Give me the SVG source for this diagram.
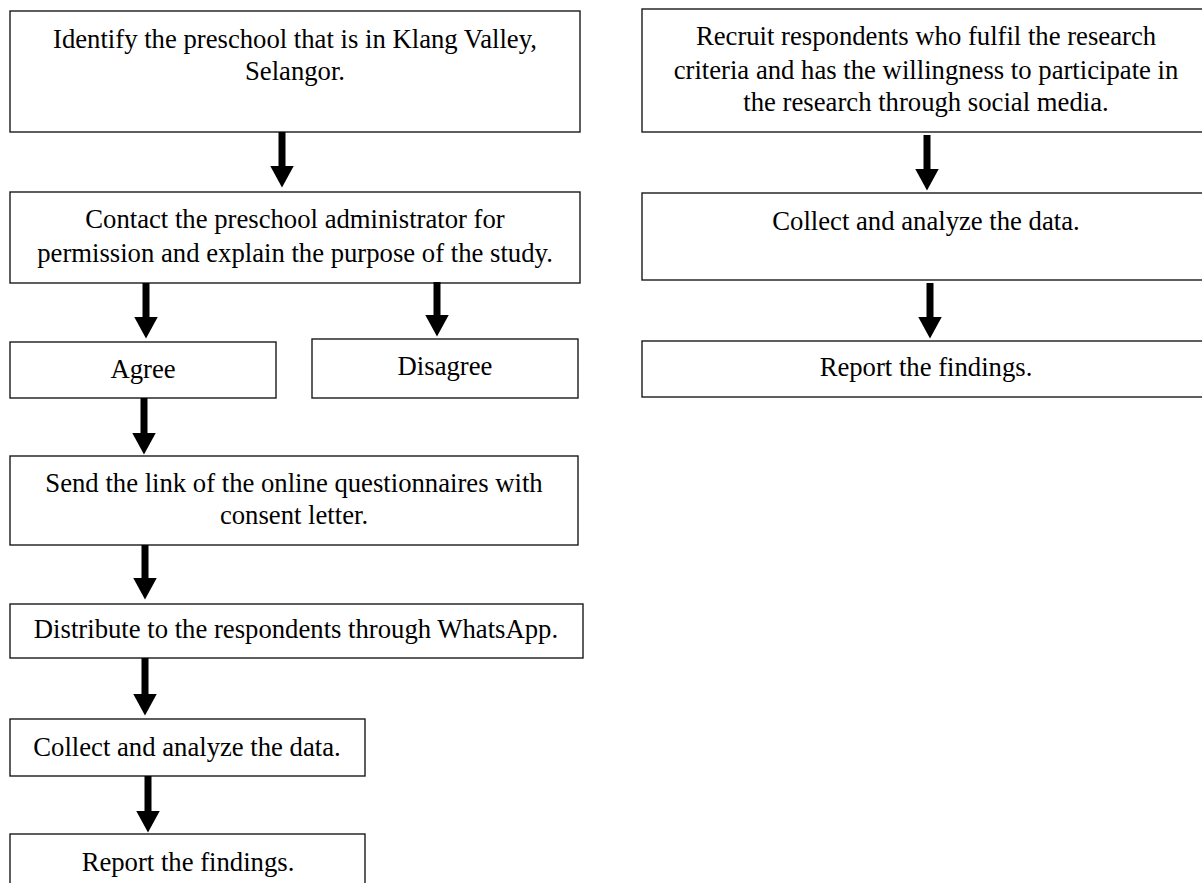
<svg xmlns="http://www.w3.org/2000/svg" width="1202" height="883" viewBox="0 0 1202 883">
<style>
.box{fill:#fff;stroke:#1a1a1a;stroke-width:1.4}
.t{font-family:"Liberation Serif","Times New Roman",serif;font-size:26.7px;fill:#000;text-anchor:middle}
</style>
<defs>
<marker id="ah" viewBox="0 0 22 24" markerWidth="22" markerHeight="24" refX="0.5" refY="12" orient="auto" markerUnits="userSpaceOnUse"><path d="M0,0 L22,12 L0,24 Z" fill="#000"/></marker>
</defs>
<rect width="1202" height="883" fill="#fff"/>
<g id="n1"><rect class="box" x="10" y="11" width="570" height="121"/><text class="t" x="295" y="48">Identify the preschool that is in Klang Valley,</text><text class="t" x="295" y="80">Selangor.</text></g>
<g id="n2"><rect class="box" x="10" y="192" width="570" height="91"/><text class="t" x="295" y="228">Contact the preschool administrator for</text><text class="t" x="295" y="262">permission and explain the purpose of the study.</text></g>
<g id="n3"><rect class="box" x="10" y="342" width="266" height="56"/><text class="t" x="143" y="378">Agree</text></g>
<g id="n4"><rect class="box" x="312" y="339" width="266" height="59"/><text class="t" x="445" y="375">Disagree</text></g>
<g id="n5"><rect class="box" x="10" y="456" width="568" height="89"/><text class="t" x="294" y="492">Send the link of the online questionnaires with</text><text class="t" x="294" y="524">consent letter.</text></g>
<g id="n6"><rect class="box" x="10" y="604" width="573" height="54"/><text class="t" x="296" y="638">Distribute to the respondents through WhatsApp.</text></g>
<g id="n7"><rect class="box" x="10" y="719" width="355" height="57"/><text class="t" x="187" y="756">Collect and analyze the data.</text></g>
<g id="n8"><rect class="box" x="10" y="834" width="355" height="60"/><text class="t" x="188" y="871">Report the findings.</text></g>
<g id="n9"><rect class="box" x="642" y="9" width="570" height="123"/><text class="t" x="926" y="45">Recruit respondents who fulfil the research</text><text class="t" x="926" y="79">criteria and has the willingness to participate in</text><text class="t" x="926" y="111">the research through social media.</text></g>
<g id="n10"><rect class="box" x="642" y="193" width="570" height="87"/><text class="t" x="926" y="230">Collect and analyze the data.</text></g>
<g id="n11"><rect class="box" x="642" y="341" width="570" height="56"/><text class="t" x="926" y="376">Report the findings.</text></g>
<g id="connectors" stroke="#000" stroke-width="7" fill="none">
<line x1="282" y1="132" x2="282" y2="166" marker-end="url(#ah)"/>
<line x1="146" y1="283" x2="146" y2="317" marker-end="url(#ah)"/>
<line x1="437" y1="282" x2="437" y2="315" marker-end="url(#ah)"/>
<line x1="144" y1="398" x2="144" y2="433" marker-end="url(#ah)"/>
<line x1="145" y1="545" x2="145" y2="578" marker-end="url(#ah)"/>
<line x1="145" y1="658" x2="145" y2="694" marker-end="url(#ah)"/>
<line x1="148" y1="776" x2="148" y2="811" marker-end="url(#ah)"/>
<line x1="927" y1="135" x2="927" y2="169" marker-end="url(#ah)"/>
<line x1="930" y1="283" x2="930" y2="317" marker-end="url(#ah)"/>
</g>
</svg>
